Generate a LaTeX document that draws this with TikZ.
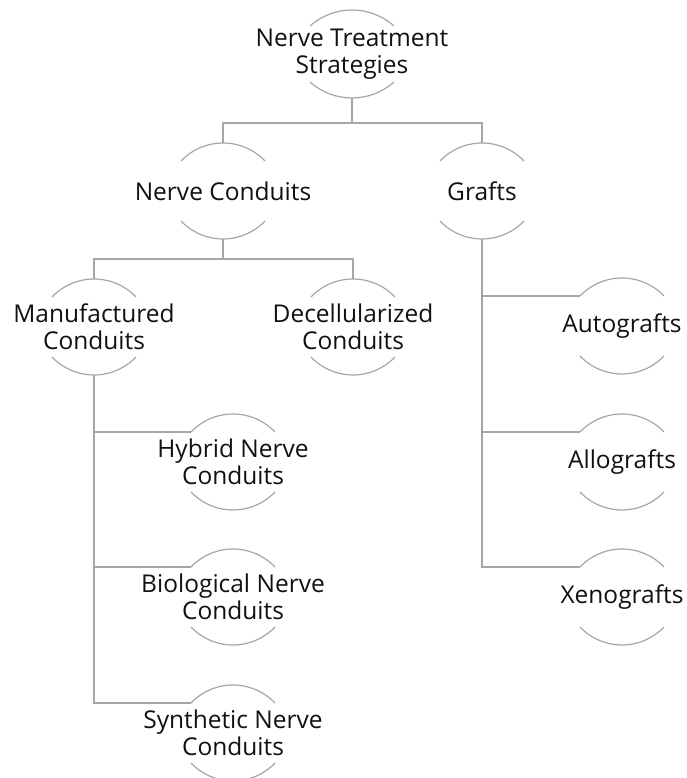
\documentclass[tikz,border=0pt]{standalone}
\usepackage{fontspec}
\setmainfont{Open Sans}
\usetikzlibrary{calc}
\definecolor{linegray}{HTML}{A6A6A6}
\definecolor{txt}{HTML}{111111}
\tikzset{
  lbl/.style={inner sep=0pt, align=center, text=txt, font=\fontsize{24.5}{27}\selectfont},
  arcline/.style={draw=linegray, line width=1.2pt},
  conn/.style={draw=linegray, line width=1.4pt},
}
% #1 node name, #2 half-height, #3 sagitta
\newcommand\halo[3]{%
  \pgfmathsetmacro\hR{(42*42+#3*#3)/(2*#3)}%
  \pgfmathsetmacro\hA{acos(42/\hR)}%
  \draw[arcline] ($(#1.center)+(42,#2-#3)$) arc[start angle=\hA, end angle=180-\hA, radius=\hR pt];
  \draw[arcline] ($(#1.center)+(-42,-#2+#3)$) arc[start angle=180+\hA, end angle=360-\hA, radius=\hR pt];
  \coordinate (#1T) at ($(#1.center)+(0,#2)$);
  \coordinate (#1B) at ($(#1.center)+(0,-#2)$);
  \coordinate (#1L) at ($(#1.center)+(-42,#2-#3)$);
}
\begin{document}
\begin{tikzpicture}[x=1pt,y=1pt]
\useasboundingbox (0,0) rectangle (686,778);
% nodes (y = 778 - pixel y)
\node[lbl] (top) at (352,724) {Nerve Treatment\\Strategies};
\node[lbl] (nc) at (223,587) {Nerve Conduits};
\node[lbl] (gr) at (482,587) {Grafts};
\node[lbl] (mc) at (94,451) {Manufactured\\Conduits};
\node[lbl] (dc) at (353,451) {Decellularized\\Conduits};
\node[lbl] (hy) at (233,316) {Hybrid Nerve\\Conduits};
\node[lbl] (bi) at (233,181) {Biological Nerve\\Conduits};
\node[lbl] (sy) at (233,45) {Synthetic Nerve\\Conduits};
\node[lbl] (au) at (622,452) {Autografts};
\node[lbl] (al) at (622,316) {Allografts};
\node[lbl] (xe) at (622,181) {Xenografts};
% arcs
\halo{top}{44}{16}
\halo{nc}{48}{18}
\halo{gr}{48}{18}
\halo{mc}{48}{18}
\halo{dc}{48}{18}
\halo{hy}{48}{18}
\halo{bi}{48}{18}
\halo{sy}{48}{18}
\halo{au}{48}{18}
\halo{al}{48}{18}
\halo{xe}{48}{18}
% junctions
\coordinate (j1) at (352,655);
\coordinate (j2) at (223,519);
% connectors
\draw[conn] (topB) -- (j1) -| (ncT);
\draw[conn] (j1) -| (grT);
\draw[conn] (ncB) -- (j2) -| (mcT);
\draw[conn] (j2) -| (dcT);
\draw[conn] (mcB) |- (hyL);
\draw[conn] (mcB) |- (biL);
\draw[conn] (mcB) |- (syL);
\draw[conn] (grB) |- (auL);
\draw[conn] (grB) |- (alL);
\draw[conn] (grB) |- (xeL);
\end{tikzpicture}
\end{document}
